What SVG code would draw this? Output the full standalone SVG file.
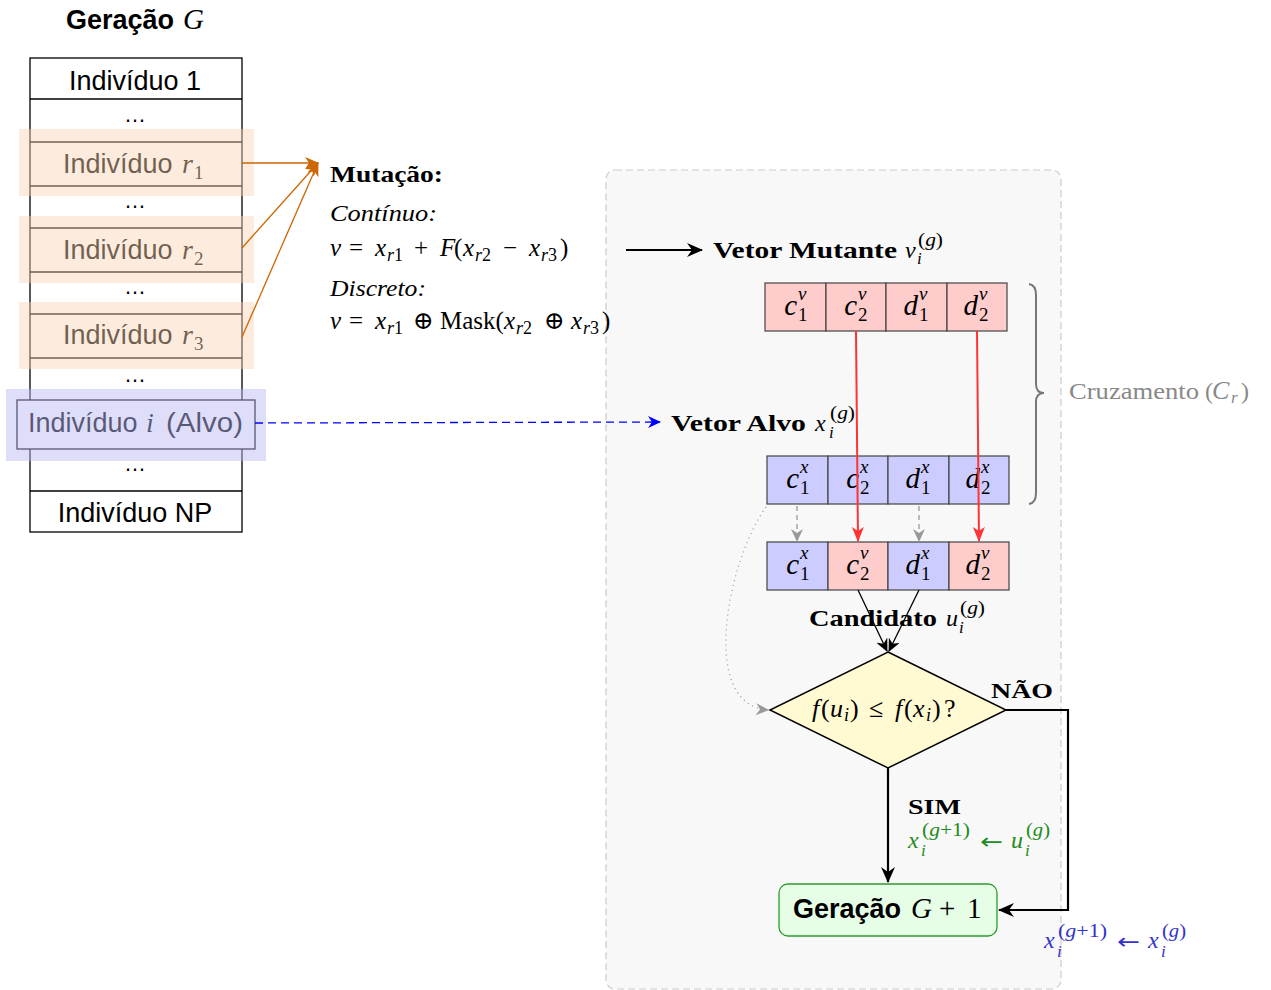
<svg xmlns="http://www.w3.org/2000/svg" width="1271" height="990" viewBox="0 0 1271 990">
  <style>
    .sans { font-family: "Liberation Sans", "DejaVu Sans", sans-serif; }
    .serif { font-family: "Liberation Serif", "DejaVu Serif", serif; }
    .it { font-style: italic; }
    .bold { font-weight: bold; }
    .arr { font-family: "DejaVu Sans", sans-serif; font-style: normal; }
    .cellv { fill: #ffcccc; stroke: #444; stroke-width: 1.2; }
    .cellx { fill: #ccccff; stroke: #444; stroke-width: 1.2; }
    .main { font-family: "Liberation Serif", serif; font-style: italic; font-size: 29px; }
    .scr { font-family: "Liberation Serif", serif; font-size: 19px; }
    .rowtxt { font-family: "Liberation Sans", sans-serif; font-size: 27px; text-anchor: middle; }
    .dots { font-family: "Liberation Sans", sans-serif; font-size: 22px; text-anchor: middle; }
  </style>
  <defs>
    <marker id="ahOrange" markerUnits="userSpaceOnUse" markerWidth="16" markerHeight="12" refX="13" refY="6" orient="auto">
      <path d="M0,0 L14,6 L0,12 L4,6 z" fill="#cc6600"/>
    </marker>
    <marker id="ahBlack" markerUnits="userSpaceOnUse" markerWidth="18" markerHeight="14" refX="15" refY="7" orient="auto">
      <path d="M0,0 L16,7 L0,14 L5,7 z" fill="#000"/>
    </marker>
    <marker id="ahBlackS" markerUnits="userSpaceOnUse" markerWidth="14" markerHeight="12" refX="12" refY="6" orient="auto">
      <path d="M0,0 L13,6 L0,12 L4,6 z" fill="#000"/>
    </marker>
    <marker id="ahRed" markerUnits="userSpaceOnUse" markerWidth="16" markerHeight="14" refX="14" refY="7" orient="auto">
      <path d="M0,1 L15,7 L0,13 L4,7 z" fill="#ff3333"/>
    </marker>
    <marker id="ahGray" markerUnits="userSpaceOnUse" markerWidth="14" markerHeight="12" refX="12" refY="6" orient="auto">
      <path d="M0,0 L13,6 L0,12 L4,6 z" fill="#999"/>
    </marker>
    <marker id="ahBlue" markerUnits="userSpaceOnUse" markerWidth="14" markerHeight="12" refX="12" refY="6" orient="auto">
      <path d="M0,0 L13,6 L0,12 L4,6 z" fill="#0000ff"/>
    </marker>
  </defs>

  <rect width="1271" height="990" fill="#fff"/>

  <!-- Crossover / selection panel (background) -->
  <rect id="panel" x="606" y="170" width="455" height="819" rx="9" fill="#f8f8f8" stroke="#cccccc" stroke-width="1.2" stroke-dasharray="7,4"/>

  <!-- Population of generation G -->
  <g id="population">
    <text x="66" y="29" font-size="27"><tspan class="sans bold">Geração</tspan><tspan class="serif it" x="183" font-size="29">G</tspan></text>
    <rect x="30" y="58" width="212" height="474" fill="#fff" stroke="#000" stroke-width="1.3"/>
    <g stroke="#000" stroke-width="1.3">
      <line x1="30" y1="99" x2="242" y2="99"/>
      <line x1="30" y1="142" x2="242" y2="142"/>
      <line x1="30" y1="186" x2="242" y2="186"/>
      <line x1="30" y1="228" x2="242" y2="228"/>
      <line x1="30" y1="272" x2="242" y2="272"/>
      <line x1="30" y1="314" x2="242" y2="314"/>
      <line x1="30" y1="358" x2="242" y2="358"/>
      <line x1="30" y1="491" x2="242" y2="491"/>
    </g>
    <text class="rowtxt" x="135" y="90">Indivíduo 1</text>
    <text class="dots" x="135" y="122">…</text>
    <text x="63" y="173" font-size="27"><tspan class="sans">Indivíduo</tspan><tspan class="serif it" x="182" font-size="28">r</tspan><tspan class="serif" font-size="19" x="194" dy="6">1</tspan></text>
    <text class="dots" x="135" y="208">…</text>
    <text x="63" y="259" font-size="27"><tspan class="sans">Indivíduo</tspan><tspan class="serif it" x="182" font-size="28">r</tspan><tspan class="serif" font-size="19" x="194" dy="6">2</tspan></text>
    <text class="dots" x="135" y="294">…</text>
    <text x="63" y="344" font-size="27"><tspan class="sans">Indivíduo</tspan><tspan class="serif it" x="182" font-size="28">r</tspan><tspan class="serif" font-size="19" x="194" dy="6">3</tspan></text>
    <text class="dots" x="135" y="382">…</text>
    <text class="dots" x="135" y="471">…</text>
    <text class="rowtxt" x="135" y="522">Indivíduo NP</text>
  </g>

  <!-- Selected individuals r1, r2, r3 -->
  <g id="selected" fill="rgb(250,212,180)" fill-opacity="0.45">
    <rect x="19" y="129" width="235" height="67"/>
    <rect x="19" y="216" width="235" height="67"/>
    <rect x="19" y="302" width="235" height="67"/>
  </g>

  <!-- Target individual -->
  <g id="target-individual">
    <rect x="17" y="400" width="238" height="49" fill="#ffffff" stroke="#000" stroke-width="1.3"/>
    <text x="28" y="432" font-size="27"><tspan class="sans">Indivíduo</tspan><tspan class="serif it" x="146" font-size="28">i</tspan><tspan class="sans" x="166" textLength="77" lengthAdjust="spacingAndGlyphs">(Alvo)</tspan></text>
    <rect x="6" y="389" width="260" height="72" fill="rgb(186,186,247)" fill-opacity="0.48"/>
  </g>

  <!-- Mutation formulas -->
  <g id="mutation" class="serif">
    <text x="330" y="182" font-size="24" class="bold" textLength="113" lengthAdjust="spacingAndGlyphs">Mutação:</text>
    <text x="330" y="221" font-size="23" class="it" textLength="107" lengthAdjust="spacingAndGlyphs">Contínuo:</text>
    <text y="256" font-size="25"><tspan class="it" x="330">v</tspan><tspan x="349">=</tspan><tspan class="it" x="375">x</tspan><tspan font-size="18" x="387" dy="5"><tspan class="it">r</tspan>1</tspan><tspan x="414" dy="-5">+</tspan><tspan class="it" x="440">F</tspan><tspan x="454">(</tspan><tspan class="it" x="463">x</tspan><tspan font-size="18" x="475" dy="5"><tspan class="it">r</tspan>2</tspan><tspan x="503" dy="-5">−</tspan><tspan class="it" x="529">x</tspan><tspan font-size="18" x="541" dy="5"><tspan class="it">r</tspan>3</tspan><tspan x="560" dy="-5">)</tspan></text>
    <text x="330" y="296" font-size="23" class="it" textLength="96" lengthAdjust="spacingAndGlyphs">Discreto:</text>
    <text y="329" font-size="25"><tspan class="it" x="330">v</tspan><tspan x="349">=</tspan><tspan class="it" x="375">x</tspan><tspan font-size="18" x="387" dy="5"><tspan class="it">r</tspan>1</tspan><tspan x="413" dy="-5">⊕</tspan><tspan x="440">Mask(</tspan><tspan class="it" x="504">x</tspan><tspan font-size="18" x="516" dy="5"><tspan class="it">r</tspan>2</tspan><tspan x="544" dy="-5">⊕</tspan><tspan class="it" x="571">x</tspan><tspan font-size="18" x="583" dy="5"><tspan class="it">r</tspan>3</tspan><tspan x="602" dy="-5">)</tspan></text>
  </g>

  <g id="label-mutant" class="serif">
    <text x="713" y="258" font-size="23" class="bold" textLength="184" lengthAdjust="spacingAndGlyphs">Vetor Mutante</text>
    <text x="905" y="258" font-size="24" class="it">v</text>
    <text x="918" y="246" font-size="18" textLength="25" lengthAdjust="spacingAndGlyphs">(<tspan class="it">g</tspan>)</text>
    <text x="917" y="264" font-size="17" class="it">i</text>
  </g>

  <g id="mutant-vector">
    <rect class="cellv" x="765" y="283" width="61" height="48"/>
    <rect class="cellv" x="826" y="283" width="60" height="48"/>
    <rect class="cellv" x="886" y="283" width="61" height="48"/>
    <rect class="cellv" x="947" y="283" width="60" height="48"/>
    <text class="main" x="797" y="315" text-anchor="end">c</text><text class="scr it" x="798" y="300">v</text><text class="scr" x="798" y="321">1</text>
    <text class="main" x="857" y="315" text-anchor="end">c</text><text class="scr it" x="858" y="300">v</text><text class="scr" x="858" y="321">2</text>
    <text class="main" x="918" y="315" text-anchor="end">d</text><text class="scr it" x="919" y="300">v</text><text class="scr" x="919" y="321">1</text>
    <text class="main" x="978" y="315" text-anchor="end">d</text><text class="scr it" x="979" y="300">v</text><text class="scr" x="979" y="321">2</text>
  </g>

  <g id="label-target" class="serif">
    <text x="671" y="431" font-size="23" class="bold" textLength="135" lengthAdjust="spacingAndGlyphs">Vetor Alvo</text>
    <text x="815" y="431" font-size="24" class="it">x</text>
    <text x="830" y="419" font-size="18" textLength="25" lengthAdjust="spacingAndGlyphs">(<tspan class="it">g</tspan>)</text>
    <text x="829" y="438" font-size="17" class="it">i</text>
  </g>

  <g id="target-vector">
    <rect class="cellx" x="767" y="456" width="61" height="48"/>
    <rect class="cellx" x="828" y="456" width="60" height="48"/>
    <rect class="cellx" x="888" y="456" width="61" height="48"/>
    <rect class="cellx" x="949" y="456" width="60" height="48"/>
    <text class="main" x="799" y="488" text-anchor="end">c</text><text class="scr it" x="800" y="473">x</text><text class="scr" x="800" y="494">1</text>
    <text class="main" x="859" y="488" text-anchor="end">c</text><text class="scr it" x="860" y="473">x</text><text class="scr" x="860" y="494">2</text>
    <text class="main" x="920" y="488" text-anchor="end">d</text><text class="scr it" x="921" y="473">x</text><text class="scr" x="921" y="494">1</text>
    <text class="main" x="980" y="488" text-anchor="end">d</text><text class="scr it" x="981" y="473">x</text><text class="scr" x="981" y="494">2</text>
  </g>

  <g id="trial-vector">
    <rect class="cellx" x="767" y="542" width="61" height="48"/>
    <rect class="cellv" x="828" y="542" width="60" height="48"/>
    <rect class="cellx" x="888" y="542" width="61" height="48"/>
    <rect class="cellv" x="949" y="542" width="60" height="48"/>
    <text class="main" x="799" y="574" text-anchor="end">c</text><text class="scr it" x="800" y="559">x</text><text class="scr" x="800" y="580">1</text>
    <text class="main" x="859" y="574" text-anchor="end">c</text><text class="scr it" x="860" y="559">v</text><text class="scr" x="860" y="580">2</text>
    <text class="main" x="920" y="574" text-anchor="end">d</text><text class="scr it" x="921" y="559">x</text><text class="scr" x="921" y="580">1</text>
    <text class="main" x="980" y="574" text-anchor="end">d</text><text class="scr it" x="981" y="559">v</text><text class="scr" x="981" y="580">2</text>
  </g>

  <g id="crossover-label">
    <path d="M1029,284 Q1036,285 1036,295 L1036,384 Q1036,393 1044,393 Q1036,393 1036,402 L1036,493 Q1036,503 1029,504" fill="none" stroke="#777" stroke-width="2"/>
    <text y="399" font-size="24" class="serif" fill="#888"><tspan x="1069" textLength="130" lengthAdjust="spacingAndGlyphs">Cruzamento</tspan><tspan x="1205">(</tspan><tspan class="it" x="1212" font-size="26">C</tspan><tspan class="it" font-size="17" x="1231" dy="4">r</tspan><tspan x="1241" dy="-4">)</tspan></text>
  </g>

  <g id="label-candidate" class="serif">
    <text x="809" y="626" font-size="23" class="bold" textLength="128" lengthAdjust="spacingAndGlyphs">Candidato</text>
    <text x="946" y="626" font-size="24" class="it">u</text>
    <text x="960" y="614" font-size="18" textLength="25" lengthAdjust="spacingAndGlyphs">(<tspan class="it">g</tspan>)</text>
    <text x="959" y="633" font-size="17" class="it">i</text>
  </g>

  <g id="decision">
    <polygon points="888,652 1006,710 888,768 770,710" fill="#fffad2" stroke="#000" stroke-width="1.5"/>
    <text y="717" font-size="26" class="serif"><tspan class="it" x="812">f</tspan><tspan x="821">(</tspan><tspan class="it" x="830">u</tspan><tspan class="it" font-size="18" x="844" dy="4">i</tspan><tspan x="850" dy="-4">)</tspan><tspan x="869">≤</tspan><tspan class="it" x="895">f</tspan><tspan x="904">(</tspan><tspan class="it" x="913">x</tspan><tspan class="it" font-size="18" x="926" dy="4">i</tspan><tspan x="932" dy="-4">)</tspan><tspan x="944">?</tspan></text>
  </g>

  <g id="next-generation">
    <rect x="779" y="884" width="218" height="52" rx="9" fill="#e6fde6" stroke="#2e9b2e" stroke-width="1.3"/>
    <text y="918" font-size="27"><tspan class="sans bold" x="793">Geração</tspan><tspan class="serif it" x="911" font-size="29">G</tspan><tspan class="serif" x="939" font-size="29">+</tspan><tspan class="serif" x="967" font-size="29">1</tspan></text>
  </g>

  <g id="branch-labels" class="serif">
    <text x="991" y="698" font-size="22" class="bold" textLength="62" lengthAdjust="spacingAndGlyphs">NÃO</text>
    <text x="908" y="814" font-size="22" class="bold" textLength="53" lengthAdjust="spacingAndGlyphs">SIM</text>
    <g fill="#228b22">
      <text x="908" y="848" font-size="24" class="it">x</text>
      <text x="922" y="836" font-size="18" textLength="48" lengthAdjust="spacingAndGlyphs">(<tspan class="it">g</tspan>+1)</text>
      <text x="921" y="856" font-size="17" class="it">i</text>
      <text class="arr" x="980" y="849" font-size="22" textLength="23" lengthAdjust="spacingAndGlyphs">←</text>
      <text x="1011" y="848" font-size="24" class="it">u</text>
      <text x="1026" y="836" font-size="18" textLength="24" lengthAdjust="spacingAndGlyphs">(<tspan class="it">g</tspan>)</text>
      <text x="1025" y="856" font-size="17" class="it">i</text>
    </g>
    <g fill="#3333cc">
      <text x="1044" y="948" font-size="24" class="it">x</text>
      <text x="1058" y="937" font-size="18" textLength="49" lengthAdjust="spacingAndGlyphs">(<tspan class="it">g</tspan>+1)</text>
      <text x="1057" y="957" font-size="17" class="it">i</text>
      <text class="arr" x="1117" y="949" font-size="22" textLength="23" lengthAdjust="spacingAndGlyphs">←</text>
      <text x="1148" y="948" font-size="24" class="it">x</text>
      <text x="1162" y="937" font-size="18" textLength="24" lengthAdjust="spacingAndGlyphs">(<tspan class="it">g</tspan>)</text>
      <text x="1161" y="957" font-size="17" class="it">i</text>
    </g>
  </g>

  <!-- Connectors -->
  <g id="connectors" fill="none">
    <g stroke="#cc6600" stroke-width="1.3" marker-end="url(#ahOrange)">
      <line x1="242" y1="163" x2="318" y2="163"/>
      <line x1="242" y1="248" x2="318" y2="163"/>
      <line x1="242" y1="337" x2="318" y2="163"/>
    </g>
    <line x1="255" y1="423" x2="660" y2="422" stroke="#0000ff" stroke-width="1.3" stroke-dasharray="8,5" marker-end="url(#ahBlue)"/>
    <line x1="626" y1="250" x2="702" y2="250" stroke="#000" stroke-width="2" marker-end="url(#ahBlack)"/>
    <g stroke="#ff3333" stroke-width="2" marker-end="url(#ahRed)">
      <line x1="856" y1="331" x2="858" y2="541"/>
      <line x1="977" y1="331" x2="979" y2="541"/>
    </g>
    <g stroke="#999" stroke-width="1.3" stroke-dasharray="5,4" marker-end="url(#ahGray)">
      <line x1="797" y1="506" x2="797" y2="541"/>
      <line x1="919" y1="506" x2="919" y2="541"/>
    </g>
    <path d="M766,507 C728,560 698,705 768,710" stroke="#999" stroke-width="1.3" stroke-dasharray="1,4" marker-end="url(#ahGray)"/>
    <g stroke="#000" stroke-width="1.3" marker-end="url(#ahBlackS)">
      <line x1="858" y1="590" x2="887" y2="651"/>
      <line x1="919" y1="590" x2="889" y2="651"/>
    </g>
    <path d="M888,768 V882" stroke="#000" stroke-width="2.2" marker-end="url(#ahBlack)"/>
    <path d="M1006,710 H1068 V910 H999" stroke="#000" stroke-width="2.2" marker-end="url(#ahBlack)"/>
  </g>
</svg>
